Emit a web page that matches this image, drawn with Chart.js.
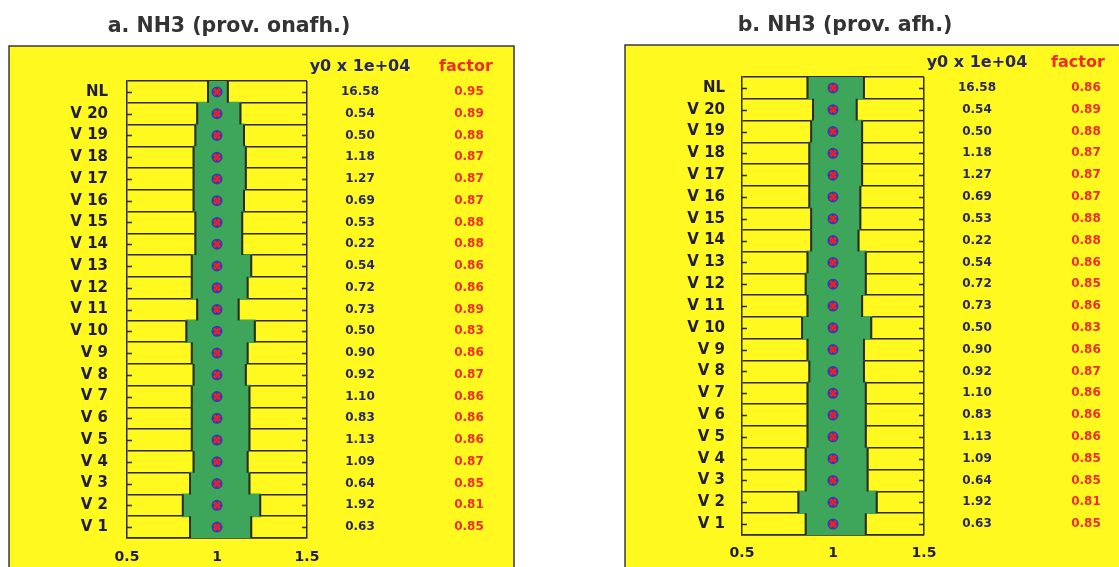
<!DOCTYPE html>
<html>
<head>
<meta charset="utf-8">
<script src="https://cdn.jsdelivr.net/npm/chart.js@4/dist/chart.umd.min.js"></script>
<style>
  html, body { margin: 0; padding: 0; background: #ffffff; }
  #wrap { position: relative; width: 1119px; height: 567px; overflow: hidden; }
  .panel { position: absolute; top: 0; height: 567px; }
</style>
</head>
<body>
<div id="wrap">
  <div class="panel" style="left:0;width:560px"><canvas id="chartA" width="560" height="567"></canvas></div>
  <div class="panel" style="left:560px;width:559px"><canvas id="chartB" width="559" height="567"></canvas></div>
</div>
<script>
// Provinces / regions, top to bottom
const categories = ['NL', 'V 20', 'V 19', 'V 18', 'V 17', 'V 16', 'V 15', 'V 14', 'V 13', 'V 12', 'V 11',
                    'V 10', 'V 9', 'V 8', 'V 7', 'V 6', 'V 5', 'V 4', 'V 3', 'V 2', 'V 1'];

// y0 (x 1e+04), identical in both panels
const y0Values = [16.58, 0.54, 0.50, 1.18, 1.27, 0.69, 0.53, 0.22, 0.54, 0.72, 0.73,
                  0.50, 0.90, 0.92, 1.10, 0.83, 1.13, 1.09, 0.64, 1.92, 0.63];

// a. NH3 (prov. onafh.) : factor = lower end of the band, upper end read separately
const factorA = [0.95, 0.89, 0.88, 0.87, 0.87, 0.87, 0.88, 0.88, 0.86, 0.86, 0.89,
                 0.83, 0.86, 0.87, 0.86, 0.86, 0.86, 0.87, 0.85, 0.81, 0.85];
const upperA  = [1.06, 1.13, 1.15, 1.16, 1.16, 1.15, 1.14, 1.14, 1.19, 1.17, 1.12,
                 1.21, 1.17, 1.16, 1.18, 1.18, 1.18, 1.17, 1.18, 1.24, 1.19];
const ratioA  = [1, 1, 1, 1, 1, 1, 1, 1, 1, 1, 1, 1, 1, 1, 1, 1, 1, 1, 1, 1, 1];

// b. NH3 (prov. afh.)
const factorB = [0.86, 0.89, 0.88, 0.87, 0.87, 0.87, 0.88, 0.88, 0.86, 0.85, 0.86,
                 0.83, 0.86, 0.87, 0.86, 0.86, 0.86, 0.85, 0.85, 0.81, 0.85];
const upperB  = [1.17, 1.13, 1.16, 1.16, 1.16, 1.15, 1.15, 1.14, 1.18, 1.18, 1.16,
                 1.21, 1.17, 1.17, 1.18, 1.18, 1.18, 1.19, 1.19, 1.24, 1.18];
const ratioB  = [1, 1, 1, 1, 1, 1, 1, 1, 1, 1, 1, 1, 1, 1, 1, 1, 1, 1, 1, 1, 1];

// x axis range and tick values
const xTicks = [0.5, 1, 1.5];

const YELLOW = '#FFF91F';
const GREEN  = '#3DA65A';
const INK    = '#2E2A1E';
const NAVY   = '#28285E';
const RED    = '#EC2F22';
const FONT   = '"DejaVu Sans", "Liberation Sans", Arial, sans-serif';

// Frame, title, value columns, band edges and inner tick marks of one panel
function makeDecor(cfg) {
  return {
    id: 'decor',
    beforeDraw(chart) {
      const ctx = chart.ctx;
      ctx.save();
      ctx.fillStyle = YELLOW;
      ctx.fillRect(cfg.box[0], cfg.box[1], cfg.box[2], cfg.box[3]);
      ctx.strokeStyle = '#3a3a3a';
      ctx.lineWidth = 1.5;
      ctx.strokeRect(cfg.box[0], cfg.box[1], cfg.box[2], cfg.box[3]);
      ctx.restore();
    },
    afterDatasetDraw(chart, args) {
      if (args.index !== 0) return;
      // dark vertical edges at both ends of every band
      const ctx = chart.ctx;
      ctx.save();
      ctx.strokeStyle = INK;
      ctx.lineWidth = 2;
      args.meta.data.forEach((bar) => {
        const p = bar.getProps(['x', 'y', 'base', 'height'], true);
        const top = p.y - p.height / 2, bottom = p.y + p.height / 2;
        ctx.beginPath();
        ctx.moveTo(p.base, top); ctx.lineTo(p.base, bottom);
        ctx.moveTo(p.x, top); ctx.lineTo(p.x, bottom);
        ctx.stroke();
      });
      ctx.restore();
    },
    afterDatasetsDraw(chart) {
      const ctx = chart.ctx, a = chart.chartArea, ys = chart.scales.y;
      ctx.save();
      ctx.strokeStyle = INK;
      ctx.lineWidth = 1.5;
      categories.forEach((c, i) => {
        const y = Math.round(ys.getPixelForValue(i)) + 0.5;
        ctx.beginPath();
        ctx.moveTo(a.left, y); ctx.lineTo(a.left + 5, y);
        ctx.moveTo(a.right, y); ctx.lineTo(a.right - 5, y);
        ctx.stroke();
      });
      ctx.restore();
    },
    afterDraw(chart) {
      const ctx = chart.ctx, a = chart.chartArea, ys = chart.scales.y;
      ctx.save();
      ctx.textAlign = 'center';
      ctx.textBaseline = 'middle';
      ctx.fillStyle = '#333333';
      ctx.font = 'bold 20.5px ' + FONT;
      ctx.fillText(cfg.title, cfg.titleX, cfg.titleY);

      ctx.font = 'bold 16px ' + FONT;
      ctx.fillStyle = NAVY;
      ctx.fillText('y0 x 1e+04', cfg.colY0, a.top - 14);
      ctx.fillStyle = RED;
      ctx.fillText('factor', cfg.colFactorHead, a.top - 14);

      ctx.font = 'bold 12px ' + FONT;
      categories.forEach((c, i) => {
        const y = ys.getPixelForValue(i);
        ctx.fillStyle = NAVY;
        ctx.fillText(y0Values[i].toFixed(2), cfg.colY0, y);
        ctx.fillStyle = RED;
        ctx.fillText(cfg.factor[i].toFixed(2), cfg.colFactor, y);
      });
      ctx.restore();
    }
  };
}

function buildChart(canvasId, cfg) {
  const bands = cfg.factor.map((f, i) => [f, cfg.upper[i]]);
  return new Chart(document.getElementById(canvasId), {
    type: 'bar',
    data: {
      labels: categories,
      datasets: [
        {
          type: 'bar',
          data: bands,
          backgroundColor: GREEN,
          borderWidth: 0,
          borderSkipped: false,
          inflateAmount: 0.9,
          barPercentage: 1,
          categoryPercentage: 1,
          order: 3
        },
        {
          type: 'line',
          indexAxis: 'y',
          data: cfg.ratio,
          showLine: false,
          pointStyle: 'circle',
          pointRadius: 5.5,
          pointBackgroundColor: '#2B3DB8',
          pointBorderWidth: 0,
          order: 2
        },
        {
          type: 'line',
          indexAxis: 'y',
          data: cfg.ratio,
          showLine: false,
          pointStyle: 'crossRot',
          pointRadius: 4.2,
          pointBorderColor: '#E3222C',
          pointBorderWidth: 3,
          order: 1
        }
      ]
    },
    options: {
      indexAxis: 'y',
      responsive: false,
      animation: false,
      events: [],
      layout: { padding: { left: 0, right: cfg.padRight, top: cfg.padTop, bottom: 0 } },
      plugins: { legend: { display: false }, tooltip: { enabled: false }, title: { display: false } },
      scales: {
        y: {
          type: 'category',
          offset: true,
          afterFit(s) { s.width = cfg.axisWidth; },
          grid: { offset: true, color: INK, lineWidth: 1.5, drawTicks: false },
          border: { display: true, color: INK, width: 1.5 },
          ticks: { color: '#1F1D3A', font: { family: FONT, size: 15, weight: 'bold' }, padding: cfg.labelPad }
        },
        x: {
          type: 'linear',
          min: xTicks[0],
          max: xTicks[xTicks.length - 1],
          afterFit(s) { s.height = cfg.xHeight; },
          afterBuildTicks(s) { s.ticks = xTicks.map(v => ({ value: v })); },
          grid: {
            drawTicks: false,
            lineWidth: 1.5,
            color: (c) => (c.tick && c.tick.value === xTicks[xTicks.length - 1]) ? INK : 'rgba(0,0,0,0)'
          },
          border: { display: true, color: INK, width: 1.5 },
          ticks: {
            color: '#1F1D3A',
            font: { family: FONT, size: 14, weight: 'bold' },
            padding: cfg.xPad,
            callback: (v) => String(v)
          }
        }
      }
    },
    plugins: [makeDecor(cfg)]
  });
}

buildChart('chartA', {
  title: 'a. NH3 (prov. onafh.)', titleX: 229, titleY: 27,
  box: [9, 46, 505, 530],
  factor: factorA, upper: upperA, ratio: ratioA,
  axisWidth: 127, padRight: 253, padTop: 81, xHeight: 29, labelPad: 19, xPad: 11,
  colY0: 360, colFactorHead: 466, colFactor: 469
});

buildChart('chartB', {
  title: 'b. NH3 (prov. afh.)', titleX: 285, titleY: 26,
  box: [65, 45, 520, 530],
  factor: factorB, upper: upperB, ratio: ratioB,
  axisWidth: 182, padRight: 195, padTop: 77, xHeight: 32, labelPad: 17, xPad: 10,
  colY0: 417, colFactorHead: 518, colFactor: 526
});
</script>
</body>
</html>
